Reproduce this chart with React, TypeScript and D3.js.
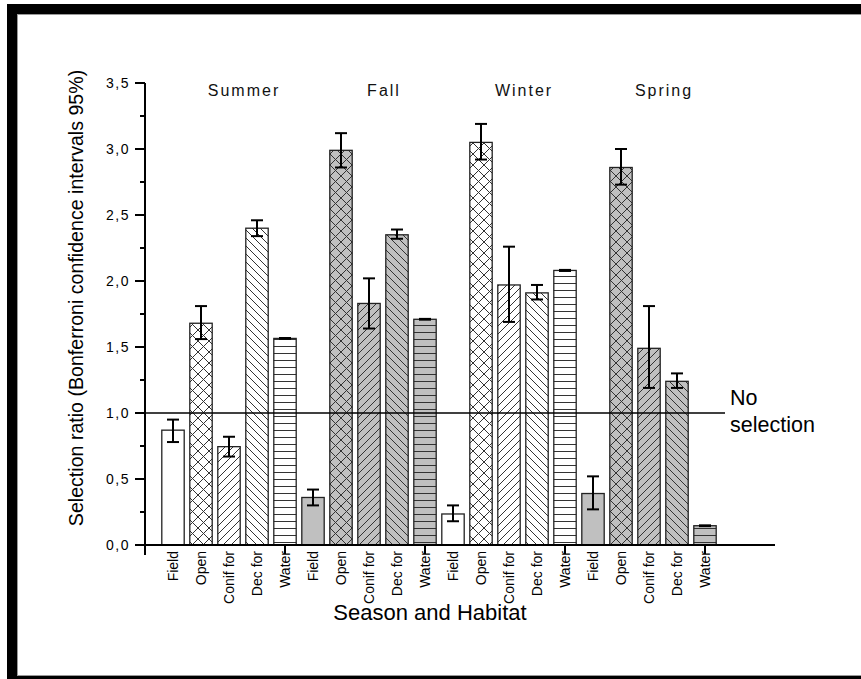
import React from "react";
import * as d3 from "d3";

const habitats = ["Field", "Open", "Conif for", "Dec for", "Water"];
const seasons = ["Summer", "Fall", "Winter", "Spring"];
const seasonFills = ["#ffffff", "#c0c0c0", "#ffffff", "#c0c0c0"];
const habitatPatterns = ["none", "cross", "fwd", "back", "horiz"];

const ratioSummer = [0.87, 1.68, 0.745, 2.4, 1.565];
const lowSummer = [0.78, 1.56, 0.67, 2.34, 1.562];
const highSummer = [0.95, 1.81, 0.82, 2.46, 1.568];

const ratioFall = [0.36, 2.99, 1.83, 2.35, 1.71];
const lowFall = [0.3, 2.86, 1.64, 2.32, 1.707];
const highFall = [0.42, 3.12, 2.02, 2.39, 1.713];

const ratioWinter = [0.235, 3.05, 1.97, 1.91, 2.08];
const lowWinter = [0.18, 2.92, 1.69, 1.86, 2.076];
const highWinter = [0.3, 3.19, 2.26, 1.97, 2.084];

const ratioSpring = [0.39, 2.86, 1.49, 1.24, 0.146];
const lowSpring = [0.27, 2.73, 1.19, 1.19, 0.143];
const highSpring = [0.52, 3.0, 1.81, 1.3, 0.149];

const yTicks = [0, 0.5, 1, 1.5, 2, 2.5, 3, 3.5];
const yTickLabels = ["0,0", "0,5", "1,0", "1,5", "2,0", "2,5", "3,0", "3,5"];
const noSelection = 1.0;

const ratios = [ratioSummer, ratioFall, ratioWinter, ratioSpring];
const lows = [lowSummer, lowFall, lowWinter, lowSpring];
const highs = [highSummer, highFall, highWinter, highSpring];

type Bar = { i: number; s: number; h: number; v: number; lo: number; hi: number };
const bars: Bar[] = [];
seasons.forEach((_, s) =>
  habitats.forEach((_, h) => {
    bars.push({ i: s * 5 + h, s, h, v: ratios[s][h], lo: lows[s][h], hi: highs[s][h] });
  })
);

const FONT = "'Liberation Sans', Arial, sans-serif";

export default function App() {
  const x = d3.scaleLinear().domain([-1, 21.5]).range([145, 775]);
  const y = d3.scaleLinear().domain([0, 3.5]).range([545, 83]);
  const bw = (x(1) - x(0)) * 0.8;
  const minorTicks = d3.range(0, 3.5, 0.25).filter((t) => Math.abs(t * 2 - Math.round(t * 2)) > 1e-6);

  const fillFor = (b: Bar) => {
    const p = habitatPatterns[b.h];
    if (p === "none") return seasonFills[b.s];
    return `url(#${p}-${b.s % 2})`;
  };

  const patternDefs: React.ReactNode[] = [];
  [0, 1].forEach((k) => {
    const bg = seasonFills[k];
    const st = "#333";
    patternDefs.push(
      <pattern key={`cross-${k}`} id={`cross-${k}`} patternUnits="userSpaceOnUse" width={11} height={11}>
        <rect width={11} height={11} fill={bg} />
        <path d="M0,0L11,11M11,0L0,11" stroke={st} strokeWidth={1} />
      </pattern>,
      <pattern key={`fwd-${k}`} id={`fwd-${k}`} patternUnits="userSpaceOnUse" width={8} height={8}>
        <rect width={8} height={8} fill={bg} />
        <path d="M0,8L8,0M-2,2L2,-2M6,10L10,6" stroke={st} strokeWidth={1} />
      </pattern>,
      <pattern key={`back-${k}`} id={`back-${k}`} patternUnits="userSpaceOnUse" width={8} height={8}>
        <rect width={8} height={8} fill={bg} />
        <path d="M0,0L8,8M-2,6L2,10M6,-2L10,2" stroke={st} strokeWidth={1} />
      </pattern>,
      <pattern key={`horiz-${k}`} id={`horiz-${k}`} patternUnits="userSpaceOnUse" width={8} height={7}>
        <rect width={8} height={7} fill={bg} />
        <path d="M0,3.5L8,3.5" stroke={st} strokeWidth={1} />
      </pattern>
    );
  });

  return (
    <svg
      width={861}
      height={679}
      style={{ position: "absolute", left: 0, top: 0, display: "block", background: "#fff" }}
      fontFamily={FONT}
    >
      <defs>{patternDefs}</defs>
      {/* frame */}
      <rect x={7} y={4} width={854} height={10} fill="#000" />
      <rect x={7} y={4} width={10} height={675} fill="#000" />
      <rect x={7} y={676} width={854} height={3} fill="#000" />
      <line x1={17} y1={14.5} x2={861} y2={14.5} stroke="#999" strokeWidth={1} />
      <line x1={17.5} y1={14} x2={17.5} y2={676} stroke="#999" strokeWidth={1} />
      <line x1={17} y1={675.5} x2={861} y2={675.5} stroke="#999" strokeWidth={1} />

      {/* bars */}
      {bars.map((b) => (
        <rect
          key={b.i}
          x={x(b.i) - bw / 2}
          y={y(b.v)}
          width={bw}
          height={y(0) - y(b.v)}
          fill={fillFor(b)}
          stroke="#222"
          strokeWidth={1.3}
        />
      ))}

      {/* error bars */}
      {bars.map((b) => (
        <g key={`e${b.i}`} stroke="#000" strokeWidth={2}>
          <line x1={x(b.i)} x2={x(b.i)} y1={y(b.lo)} y2={y(b.hi)} />
          <line x1={x(b.i) - 6} x2={x(b.i) + 6} y1={y(b.lo)} y2={y(b.lo)} />
          <line x1={x(b.i) - 6} x2={x(b.i) + 6} y1={y(b.hi)} y2={y(b.hi)} />
        </g>
      ))}

      {/* no selection line */}
      <line x1={x(-1)} x2={725} y1={y(noSelection)} y2={y(noSelection)} stroke="#000" strokeWidth={1.6} />
      <text x={730} y={405} fontSize={21.5} fill="#000">No</text>
      <text x={730} y={432} fontSize={21.5} fill="#000">selection</text>

      {/* axes */}
      <line x1={x(-1)} x2={x(-1)} y1={y(3.5)} y2={555} stroke="#000" strokeWidth={2} />
      <line x1={x(-1) - 1} x2={775} y1={y(0)} y2={y(0)} stroke="#000" strokeWidth={2} />
      {yTicks.map((t, k) => (
        <g key={`yt${k}`}>
          <line x1={x(-1) - 10} x2={x(-1)} y1={y(t)} y2={y(t)} stroke="#000" strokeWidth={2} />
          <text
            x={130}
            y={y(t)}
            dy="0.36em"
            textAnchor="end"
            fontSize={14}
            letterSpacing={1.5}
            fill="#000"
          >
            {yTickLabels[k]}
          </text>
        </g>
      ))}
      {minorTicks.map((t) => (
        <line key={`mt${t}`} x1={x(-1) - 5} x2={x(-1)} y1={y(t)} y2={y(t)} stroke="#000" strokeWidth={2} />
      ))}

      {/* x labels */}
      {bars.map((b) => (
        <text
          key={`xl${b.i}`}
          transform={`translate(${x(b.i)},${551}) rotate(-90)`}
          textAnchor="end"
          dy="0.36em"
          fontSize={14}
          fill="#000"
        >
          {habitats[b.h]}
        </text>
      ))}
      {seasons.map((_, s) => (
        <line
          key={`xt${s}`}
          x1={x(s * 5 + 4)}
          x2={x(s * 5 + 4)}
          y1={y(0)}
          y2={y(0) + 9}
          stroke="#000"
          strokeWidth={2}
        />
      ))}

      {/* season labels */}
      {seasons.map((name, s) => (
        <text
          key={`sl${s}`}
          x={x(s * 5 + 2.5) + 1}
          y={96}
          textAnchor="middle"
          fontSize={16}
          letterSpacing={2}
          fill="#111"
        >
          {name}
        </text>
      ))}

      {/* axis titles */}
      <text
        transform={`translate(76,298) rotate(-90)`}
        textAnchor="middle"
        dy="0.36em"
        fontSize={19.6}
        fill="#000"
      >
        Selection ratio (Bonferroni confidence intervals 95%)
      </text>
      <text x={430} y={620} textAnchor="middle" fontSize={22} fill="#000">
        Season and Habitat
      </text>
    </svg>
  );
}
